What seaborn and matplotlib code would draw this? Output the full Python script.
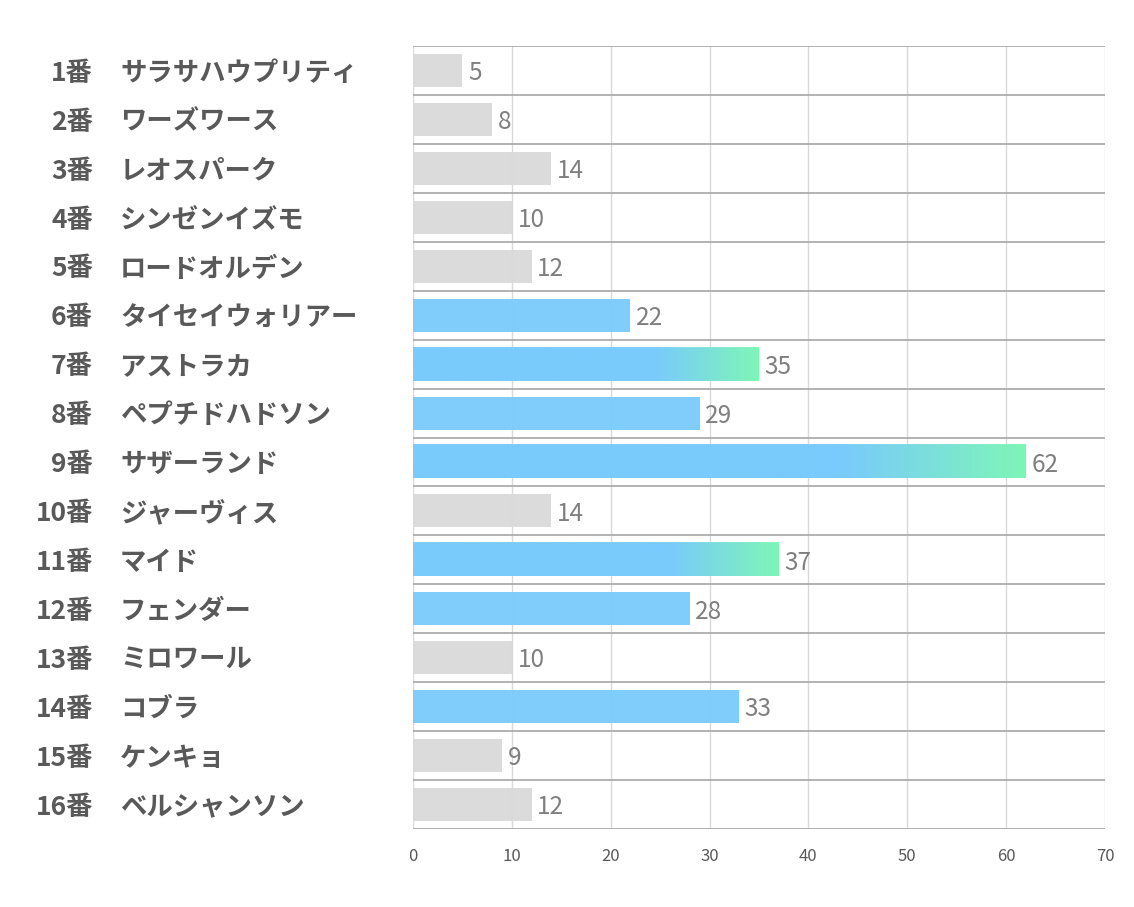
import matplotlib
matplotlib.use("Agg")
import matplotlib.pyplot as plt
import matplotlib.transforms as mtransforms
import numpy as np
import pandas as pd
import seaborn as sns
from matplotlib.colors import to_rgb

numbers = ["1番", "2番", "3番", "4番", "5番", "6番", "7番", "8番",
           "9番", "10番", "11番", "12番", "13番", "14番", "15番", "16番"]
names = ["サラサハウプリティ", "ワーズワース", "レオスパーク", "シンゼンイズモ",
         "ロードオルデン", "タイセイウォリアー", "アストラカ", "ペプチドハドソン",
         "サザーランド", "ジャーヴィス", "マイド", "フェンダー",
         "ミロワール", "コブラ", "ケンキョ", "ベルシャンソン"]
values = [5, 8, 14, 10, 12, 22, 35, 29, 62, 14, 37, 28, 10, 33, 9, 12]
groups = ["low", "low", "low", "low", "low", "high", "top", "high",
          "top", "low", "top", "high", "low", "high", "low", "low"]
x_ticks = [0, 10, 20, 30, 40, 50, 60, 70]

sns.set_theme(style="white")
plt.rcParams['font.family'] = ['Noto Sans CJK JP', 'DejaVu Sans']

GREY = "#D9D9D9"
BLUE = "#79CBFC"
GREEN = "#7EF8B4"

fig = plt.figure(figsize=(11.34, 9.07), dpi=100)
ax = fig.add_axes([413 / 1134, 1 - 829 / 907, (1105 - 413) / 1134, (829 - 46) / 907])

df = pd.DataFrame({"label": names, "value": values, "group": groups})
palette = {"low": GREY, "high": BLUE, "top": BLUE}
sns.barplot(data=df, y="label", x="value", hue="group", palette=palette,
            dodge=False, width=0.675, legend=False, ax=ax, alpha=0.95,
            zorder=2, linewidth=0, saturation=1)

# gradient overlay for top bars
b = np.array(to_rgb(BLUE))
g = np.array(to_rgb(GREEN))
N = 256
t = np.linspace(0, 1, N)
start = 0.70
f = np.clip((t - start) / (1 - start), 0, 1)
grad = (b[None, :] * (1 - f[:, None]) + g[None, :] * f[:, None])[None, :, :]

for p in list(ax.patches):
    yc = p.get_y() + p.get_height() / 2
    idx = int(round(yc))
    if groups[idx] == "top":
        x0, w = p.get_x(), p.get_width()
        y0, h = p.get_y(), p.get_height()
        ax.imshow(grad, extent=(x0, x0 + w, y0 + h, y0), aspect="auto",
                  interpolation="bilinear", zorder=2.5, alpha=0.95)

ax.set_xlim(0, 70)
ax.set_ylim(len(names) - 0.5, -0.5)

# grid lines
ax.vlines(x_ticks, -0.5, len(names) - 0.5, color="#D9D9D9", lw=1, zorder=1)
ax.hlines(np.arange(len(names) + 1) - 0.5, 0, 70, color="#A6A6A6", lw=1.2, zorder=3)

for s in ax.spines.values():
    s.set_visible(False)

ax.set_xticks(x_ticks)
ax.set_xticklabels([str(v) for v in x_ticks])
ax.tick_params(axis="x", length=0, pad=14, labelsize=12, labelcolor="#595959")
ax.set_yticks([])
ax.set_xlabel("")
ax.set_ylabel("")

# value labels
for i, v in enumerate(values):
    ax.annotate(str(v), xy=(v, i), xytext=(4, -2), textcoords="offset points",
                va="center", ha="left", fontsize=17.5, color="#7F7F7F", zorder=4)

# category labels
trans = mtransforms.blended_transform_factory(fig.transFigure, ax.transData)
off = mtransforms.ScaledTranslation(0, -2 / 72, fig.dpi_scale_trans)
for i, (n, nm) in enumerate(zip(numbers, names)):
    ax.text(93 / 1134, i, n, transform=trans + off, ha="right", va="center",
            fontsize=19, fontweight="bold", color="#595959")
    ax.text(120 / 1134, i, nm, transform=trans + off, ha="left", va="center",
            fontsize=19, fontweight="bold", color="#595959")

fig.savefig("out.png", dpi=100, facecolor="white")
